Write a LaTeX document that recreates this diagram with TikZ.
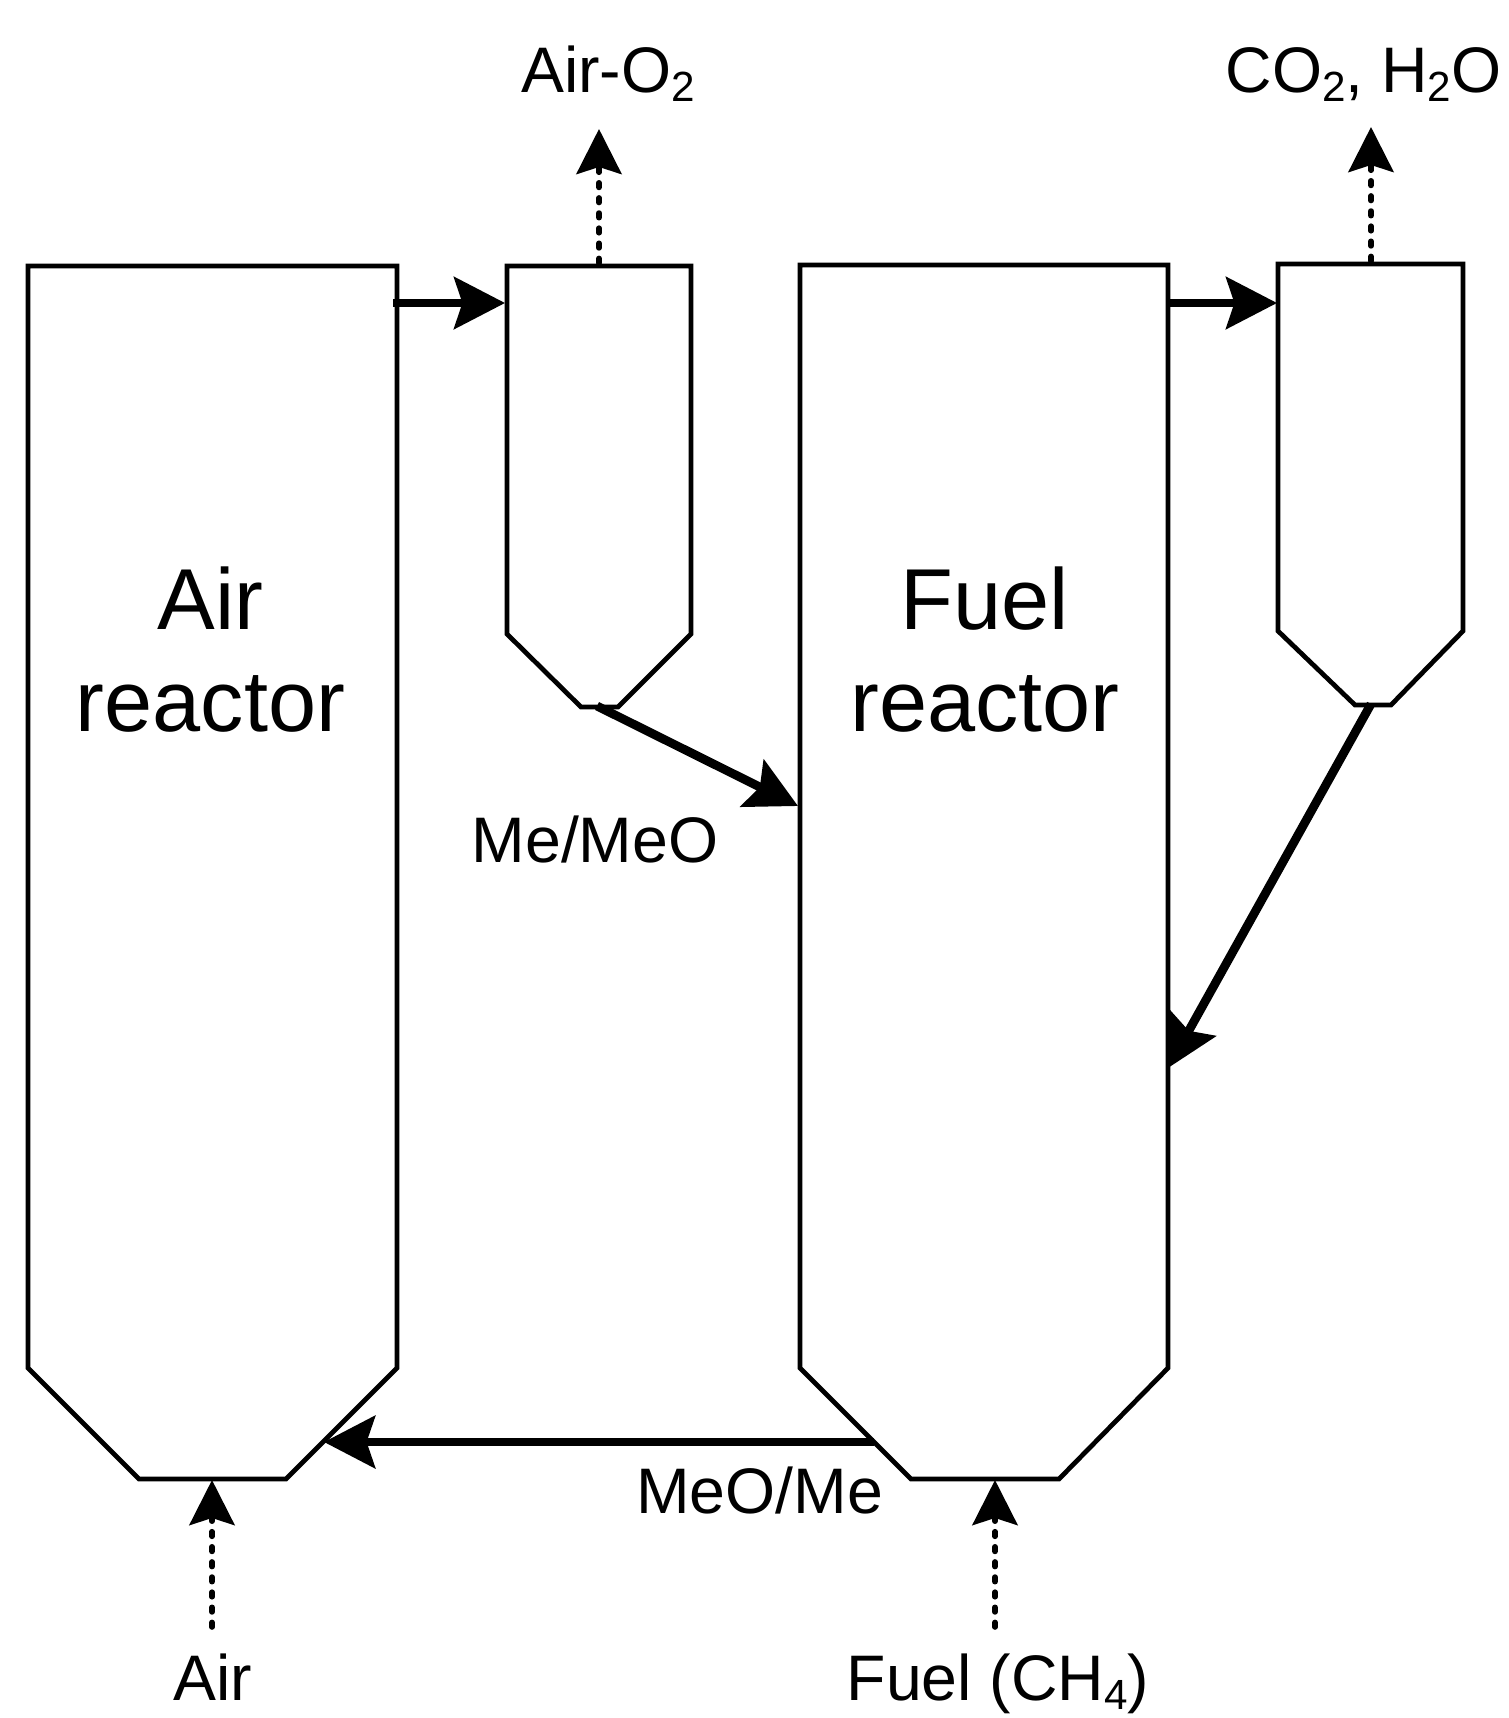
\documentclass[tikz,border=0pt]{standalone}
\usepackage{fontspec}
\setmainfont{Liberation Sans}
\usetikzlibrary{arrows.meta}
\newcommand{\chemsub}[1]{\raisebox{-2.7pt}{\fontsize{12}{12}\selectfont #1}}
\begin{document}
\begin{tikzpicture}[x=0.01cm,y=-0.01cm]
  \tikzstyle{vessel}=[draw,line width=1.35pt,line join=miter]
  \tikzstyle{solid flow}=[draw,line width=2.1pt,-{Stealth[length=14.5pt,width=14.8pt,inset=2.4pt]}]
  \tikzstyle{thick flow}=[draw,line width=2.5pt,-{Stealth[length=14.5pt,width=14.8pt,inset=2.4pt]}]
  \tikzstyle{gas flow}=[draw,line width=1.6pt,line cap=round,dash pattern=on 1.3pt off 3pt,-{Stealth[length=12.8pt,width=12.8pt,inset=2pt,line cap=butt]}]
  \tikzstyle{title}=[font=\fontsize{24.6}{29}\selectfont,align=center,inner sep=0pt]
  \tikzstyle{stream}=[font=\fontsize{18.3}{22}\selectfont,anchor=base,inner sep=0pt]
  \useasboundingbox (0,0) rectangle (1508,1718);
  % reactors
  \draw[vessel] (28,266) -- (397,266) -- (397,1368) -- (286,1479) -- (139,1479) -- (28,1368) -- cycle;
  \draw[vessel] (800,265) -- (1168,265) -- (1168,1368) -- (1059,1479) -- (911,1479) -- (800,1368) -- cycle;
  % cyclones
  \draw[vessel] (507,266) -- (691,266) -- (691,634) -- (618,707) -- (581,707) -- (507,634) -- cycle;
  \draw[vessel] (1278,264) -- (1463,264) -- (1463,631) -- (1391,705) -- (1355,705) -- (1278,631) -- cycle;
  % texts
  \node[title] (airreactor) at (210.5,650) {Air\\reactor};
  \node[title] (fuelreactor) at (985,650) {Fuel\\reactor};
  \node[stream] (airout) at (608,92) {Air-O\chemsub{2}};
  \node[stream] (fuelout) at (1363.5,92) {CO\chemsub{2}, H\chemsub{2}O};
  \node[stream] (meomeo) at (595,862) {Me/MeO};
  \node[stream] (meome) at (759.5,1513) {MeO/Me};
  \node[stream] (airin) at (213,1700) {Air};
  \node[stream] (fuelin) at (998,1700) {Fuel (CH\chemsub{4})};
  % ends of the streams
  \coordinate (airexit) at (393,303);
  \coordinate (cycloneAin) at (505,303);
  \coordinate (fuelexit) at (1166,303);
  \coordinate (cycloneBin) at (1277,303);
  \coordinate (cycloneAdrop) at (597,706);
  \coordinate (fuelfeed) at (798,806);
  \coordinate (cycloneBdrop) at (1371,704);
  \coordinate (fuelreturn) at (1168,1068);
  \coordinate (fuelloop) at (874,1442);
  \coordinate (airreturn) at (324,1442);
  \coordinate (cycloneAtop) at (599,263);
  \coordinate (airoutend) at (599,129);
  \coordinate (cycloneBtop) at (1371,261);
  \coordinate (fueloutend) at (1371,127);
  \coordinate (airstart) at (212,1627);
  \coordinate (airbottom) at (212,1480);
  \coordinate (fuelstart) at (995,1627);
  \coordinate (fuelbottom) at (995,1480);
  % solids
  \draw[solid flow] (airexit) -- (cycloneAin);
  \draw[solid flow] (fuelexit) -- (cycloneBin);
  \draw[thick flow] (cycloneAdrop) -- (fuelfeed);
  \draw[thick flow] (cycloneBdrop) -- (fuelreturn);
  \draw[thick flow] (fuelloop) -- (airreturn);
  % gases
  \draw[gas flow] (cycloneAtop) -- (airoutend);
  \draw[gas flow] (cycloneBtop) -- (fueloutend);
  \draw[gas flow] (airstart) -- (airbottom);
  \draw[gas flow] (fuelstart) -- (fuelbottom);
\end{tikzpicture}
\end{document}
